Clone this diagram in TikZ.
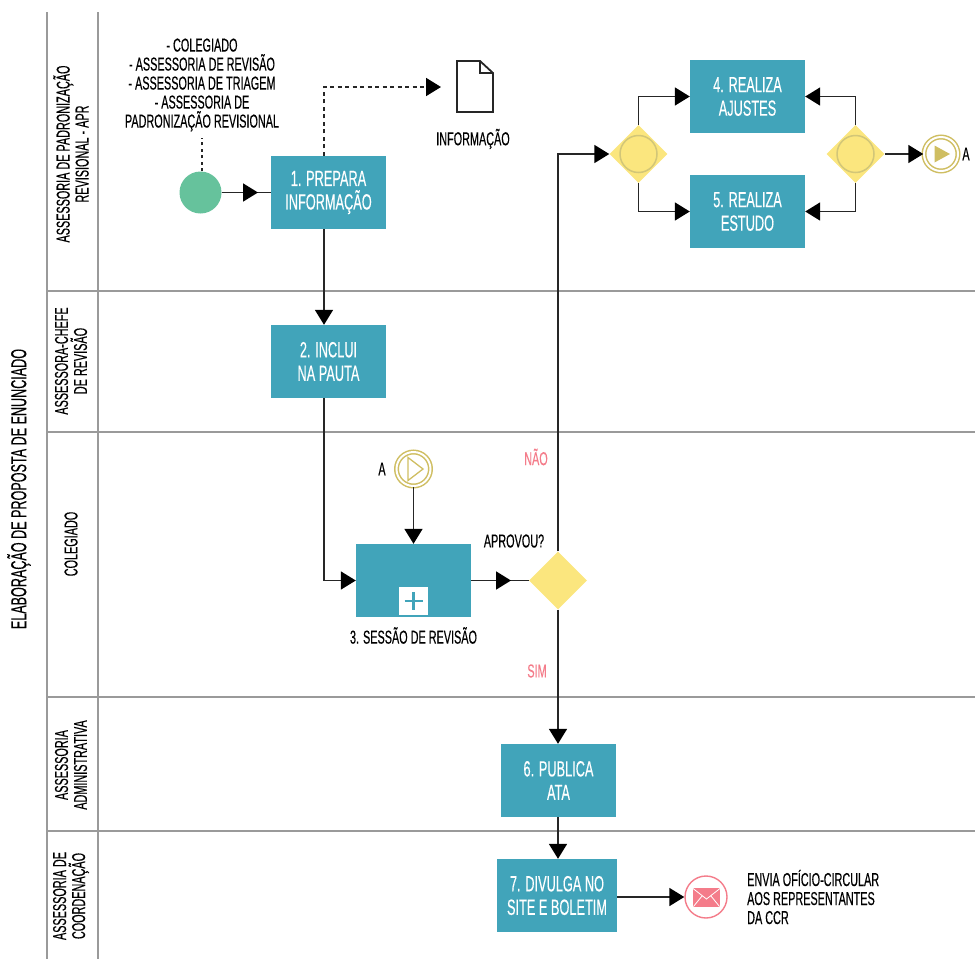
\documentclass[tikz,border=0pt]{standalone}
\usepackage{fontspec}
\setmainfont[FakeStretch=0.58,FakeBold=0.3]{Liberation Sans}
\usetikzlibrary{arrows.meta,shapes.geometric}

\definecolor{taskblue}{HTML}{41A4BA}
\definecolor{gateyellow}{HTML}{FBE67E}
\definecolor{gatering}{HTML}{D2C678}
\definecolor{startgreen}{HTML}{66C29C}
\definecolor{linkgold}{HTML}{CFBE62}
\definecolor{mailpink}{HTML}{F47C8A}
\definecolor{lanegray}{HTML}{9A9A9A}

\tikzset{
	task/.style={fill=taskblue, text=white, minimum height=73pt, inner sep=0pt, align=center, font=\fontsize{22}{23.5}\selectfont},
	gateway/.style={diamond, fill=gateyellow, minimum width=58pt, minimum height=58pt, inner sep=0pt},
	ring/.style={circle, draw=gatering, line width=1.5pt, minimum size=37pt, inner sep=0pt},
	linkevent/.style={circle, draw=linkgold, double=white, double distance=2pt, line width=1.5pt, minimum size=34pt, inner sep=0pt},
	label/.style={align=center, font=\fontsize{18.7}{19}\selectfont, inner sep=0pt},
	link/.style={draw=black!85, line width=1.8pt},
	flow/.style={link, -{Triangle[length=15pt,width=18pt,color=black]}},
	lane/.style={draw=lanegray, line width=1.4pt},
}

\begin{document}
\begin{tikzpicture}[x=1pt, y=-1pt]

		\useasboundingbox (0,0) rectangle (975,959);

		% lanes
		\foreach \x in {47,98}
			\draw [lane] (\x,12) -- (\x,959);
		\foreach \y in {291,432,697,831}
			\draw [lane] (47,\y) -- (975,\y);

		% lane headings
		\node [label, rotate=90, font=\fontsize{21.7}{23}\selectfont] (pool) at (19,489) {ELABORAÇÃO DE PROPOSTA DE ENUNCIADO};
		\foreach \m/\y/\l in {1/154/{ASSESSORIA DE PADRONIZAÇÃO\\REVISIONAL - APR}, 2/361/{ASSESSORA-CHEFE\\DE REVISÃO}, 3/544/{COLEGIADO}, 4/765/{ASSESSORIA\\ADMINISTRATIVA}, 5/896/{ASSESSORIA DE\\COORDENAÇÃO}}
			\node [label, rotate=90] (lane-\m) at (71,\y) {\l};

		% tasks
		\foreach \m/\x/\y/\w/\l in {1/328.5/192.5/115/{1. PREPARA\\INFORMAÇÃO}, 2/328.5/361.5/115/{2. INCLUI\\NA PAUTA}, 3/413.5/580.5/115/{}, 4/747.5/96.5/115/{4. REALIZA\\AJUSTES}, 5/747.5/211.5/115/{5. REALIZA\\ESTUDO}, 6/558.5/780.5/115/{6. PUBLICA\\ATA}, 7/557/895.5/120/{7. DIVULGA NO\\SITE E BOLETIM}}
			\node [task, minimum width=\w pt] (task-\m) at (\x,\y) {\l};

		% subprocess marker
		\node [fill=white, minimum size=28.5pt, inner sep=0pt] (marker) at (413.5,601) {};
		\draw [draw=taskblue, line width=2.6pt] (marker.center) ++(-9,0) -- ++(18,0) (marker.center) ++(0,-9) -- ++(0,18);

		% gateways
		\node [gateway] (approved) at (558,580.5) {};
		\foreach \m/\x in {1/638.5,2/855.5} {
			\node [gateway] (split-\m) at (\x,154) {};
			\node [ring] (ring-\m) at (\x,154) {};
		}

		% events
		\node [circle, fill=startgreen, minimum size=42pt, inner sep=0pt] (start) at (200.5,192.5) {};
		\node [linkevent] (link-in) at (413.5,469) {};
		\node [linkevent] (link-out) at (941,154) {};
		\draw [draw=linkgold, line width=1.3pt, line join=miter] (408,457.5) -- (423,469) -- (408,480.5) -- cycle;
		\fill [linkgold] (934.5,145.5) -- (950,154) -- (934.5,162.5) -- cycle;
		\node [circle, draw=mailpink, fill=white, line width=1.4pt, minimum size=42pt, inner sep=0pt] (mail) at (706,897) {};
		\fill [mailpink] (693,888) rectangle (720,907);
		\draw [white, line width=0.8pt] (693,888.5) -- (706.5,899) -- (720,888.5) (693.5,906.5) -- (702,896) (719.5,906.5) -- (711,896);

		% document
		\draw [link, fill=white, line join=miter] (457,61) -- (480,61) -- (493,73) -- (493,112) -- (457,112) -- cycle;
		\draw [link] (480,61) -- (480,73) -- (493,73);
		\coordinate (doc-in) at (441,87);
		\coordinate (note-end) at (202,138);
		\coordinate (start-tip) at (258,192.5);
		\coordinate (task-3-tip) at (511,580.5);

		% flows
		\draw [link] (start) -- (task-1);
		\draw [flow] (start) -- (start-tip);
		\draw [flow] ([xshift=-4.5pt]task-1.south) -- ([xshift=-4.5pt]task-2.north);
		\draw [flow] ([xshift=-4.5pt]task-2.south) |- (task-3.west);
		\draw [flow] (link-in) -- (task-3.north -| link-in);
		\draw [link] (task-3) -- (approved);
		\draw [flow] (task-3) -- (task-3-tip);
		\draw [flow] (approved.north) |- (split-1.west);
		\draw [flow] (approved.south) -- (approved.south |- task-6.north);
		\draw [flow] (split-1.north) |- (task-4.west);
		\draw [flow] (split-1.south) |- (task-5.west);
		\draw [flow] (split-2.north) |- (task-4.east);
		\draw [flow] (split-2.south) |- (task-5.east);
		\draw [flow] (split-2) -- (link-out);
		\draw [flow] (task-6.south -| approved) -- (task-7.north -| approved);
		\draw [flow] (task-7.east |- mail) -- (mail);

		% associations
		\draw [flow, dash pattern=on 4pt off 3.5pt] ([xshift=-4.5pt]task-1.north) |- (doc-in);
		\draw [link, dash pattern=on 3pt off 3.5pt] (start.north -| note-end) -- (note-end);

		% texts
		\node [label] (roles) at (202,85) {- COLEGIADO\\- ASSESSORIA DE REVISÃO\\- ASSESSORIA DE TRIAGEM\\- ASSESSORIA DE\\PADRONIZAÇÃO REVISIONAL};
		\node [label] (doc-label) at (473,139) {INFORMAÇÃO};
		\node [label] (task-3-label) at (413.5,635.5) {3. SESSÃO DE REVISÃO};
		\node [label] (question) at (514,541) {APROVOU?};
		\node [label, text=mailpink] (no) at (536,457) {NÃO};
		\node [label, text=mailpink] (yes) at (537,671) {SIM};
		\node [label] (a-in) at (382,469) {A};
		\node [label] (a-out) at (966,154) {A};
		\node [label, align=left, anchor=west] (mail-label) at (747,897) {ENVIA OFÍCIO-CIRCULAR\\AOS REPRESENTANTES\\DA CCR};

\end{tikzpicture}
\end{document}
